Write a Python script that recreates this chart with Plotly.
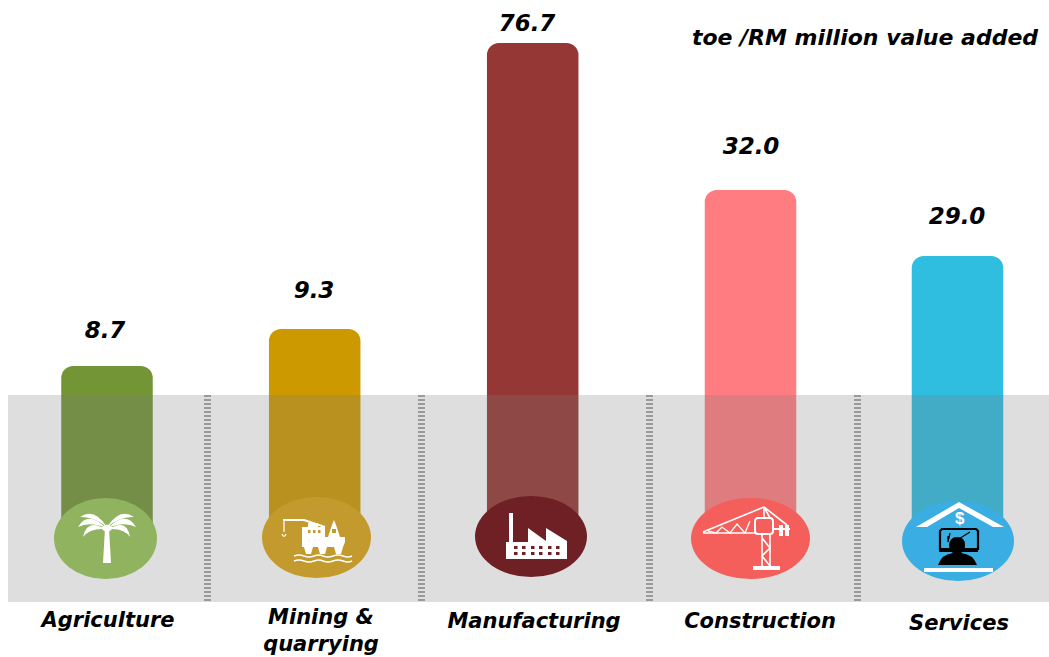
import plotly.graph_objects as go

# Data
categories = ["Agriculture", "Mining &<br>quarrying", "Manufacturing", "Construction", "Services"]
values = [8.7, 9.3, 76.7, 32.0, 29.0]
# The source bars are pictorial (not to scale): drawn height above the icon centre
drawn_heights = [172, 209, 495, 348, 282]
bar_centres = [107, 314.7, 532.7, 750.5, 957.5]
bar_colors = ["#739536", "#CC9900", "#943735", "#FF7C80", "#2FBDE0"]
circle_colors = ["#90B35F", "#C39A2E", "#6E2024", "#F45F5B", "#3AADE3"]
value_x = [105, 314, 527, 751, 957]
value_y = [332, 292, 25, 148, 218]
label_x = [108, 321, 534, 760, 959]
label_y = [622, 632, 623, 623, 625]
unit_text = "toe /RM million value added"
separators = [207.5, 421.5, 649.5, 857.5]
ellipses = [(54, 157, 498, 579), (262, 371, 497, 578), (475, 587, 496, 577),
            (691, 810, 498, 579), (902, 1014, 501, 581)]

W, H = 1049, 657
fig = go.Figure()
fig.add_trace(go.Bar(x=bar_centres, y=drawn_heights, base=H - 538, width=91.5,
                     marker=dict(color=bar_colors, line=dict(width=0)),
                     showlegend=False, hoverinfo="skip"))

fig.add_trace(go.Scatter(x=value_x, y=value_y, yaxis="y2", mode="text", cliponaxis=False,
                         text=[f"{v:.1f}" for v in values], textposition="middle center",
                         textfont=dict(family="DejaVu Sans", size=23, color="#000000",
                                       weight="bold", style="italic"),
                         showlegend=False, hoverinfo="skip"))
fig.add_trace(go.Scatter(x=label_x, y=label_y, yaxis="y2", mode="text", cliponaxis=False,
                         text=categories, textposition="middle center",
                         textfont=dict(family="DejaVu Sans", size=21, color="#000000",
                                       weight="bold", style="italic"),
                         showlegend=False, hoverinfo="skip"))
fig.add_trace(go.Scatter(x=[865], y=[39], yaxis="y2", mode="text", cliponaxis=False,
                         text=[unit_text], textposition="middle center",
                         textfont=dict(family="DejaVu Sans", size=22, color="#000000",
                                       weight="bold", style="italic"),
                         showlegend=False, hoverinfo="skip"))

shapes = []
def add(**k):
    k.setdefault("xref", "x"); k.setdefault("yref", "y2"); k.setdefault("layer", "above")
    k.setdefault("line", dict(width=0))
    shapes.append(k)
def rect(x0, x1, y0, y1, c="#FFFFFF"):
    add(type="rect", x0=x0, x1=x1, y0=y0, y1=y1, fillcolor=c)
def path(d, fill="#FFFFFF", lw=0, lc="#FFFFFF"):
    add(type="path", path=d, fillcolor=fill, line=dict(width=lw, color=lc))
def stroke(d, lw=1.5, c="#FFFFFF"):
    add(type="path", path=d, line=dict(width=lw, color=c))

# grey band over the bars
rect(8, 1049, 395, 602, "rgba(123,123,123,0.25)")
for s in separators:
    add(type="line", x0=s, x1=s, y0=395, y1=603,
        line=dict(color="#9A9A9A", width=7, dash="2px,2px"))
for (x0, x1, y0, y1), c in zip(ellipses, circle_colors):
    add(type="circle", x0=x0, x1=x1, y0=y0, y1=y1, fillcolor=c)

# palm
path("M105 528 L109 528 L111 563 L103 563 Z")
for d in ["M107 527 Q94 507 80 517 Q93 516 107 527 Z",
          "M107 527 Q120 507 134 517 Q121 516 107 527 Z",
          "M106 528 Q88 510 78 527 Q90 521 106 528 Z",
          "M108 528 Q126 510 136 527 Q124 521 108 528 Z",
          "M105 529 Q87 518 83 537 Q90 528 105 529 Z",
          "M109 529 Q127 518 130 537 Q124 528 109 529 Z"]:
    path(d)
path("M101 528 Q107 521 113 528 L110 531 L104 531 Z")

# oil rig
for y in (556, 561):
    stroke(f"M294 {y} Q299 {y-2} 304 {y} Q309 {y+2} 314 {y} Q319 {y-2} 323 {y} Q328 {y+2} 333 {y} Q338 {y-2} 343 {y} Q348 {y+2} 352 {y}", 1.6)
path("M302 537 L345 537 L345 542 L343 547 L302 547 Z")
for a, b in ((304, 313), (318, 327), (334, 343)):
    path(f"M{a} 547 L{b} 547 L{b-2} 554 L{a+2} 554 Z")
rect(302, 325, 527, 537)
rect(308, 318, 523, 527)
for x in (308, 313, 318):
    rect(x, x + 2.5, 530, 533, "#C39A2E")
path("M328 537 L332 525 L334 520 L336 525 L340 537 Z")
rect(332, 336, 529, 533, "#C39A2E")
stroke("M283 520 L304 520 L325 527", 2)
stroke("M284 520 L284 532 M282 534 Q284 539 286 534", 1.2)

# factory
rect(509, 513, 513, 542)
path("M506 542 L528 542 L528 528 L546 541 L546 528 L567 541 L567 559 L506 559 Z")
for y in (546, 552):
    for x in (514, 522, 531, 539, 548, 556):
        rect(x, x + 3.5, y, y + 3, "#6E2024")

# crane
stroke("M703 533 L755 533 M764 507 L703 532 M764 507 L787 525 M764 507 L764 518 M770 518 L764 507", 1.6)
stroke("M708 531 L716 533 L722 527 L730 533 L737 524 L745 533 L750 521", 1.3)
stroke("M762 535 L762 567 M770 535 L770 567 M762 538 L770 548 L762 556 L770 566", 1.6)
rect(753, 780, 566, 570)
add(type="path", path="M758 518 L770 518 Q773 518 773 522 L773 531 Q773 534 770 534 L758 534 Q755 534 755 531 L755 522 Q755 518 758 518 Z",
    line=dict(width=2, color="#FFFFFF"))
stroke("M772 529 L790 529", 2)
rect(779, 783, 525, 536); rect(785, 789, 525, 536)

# services
path("M916 527 L959 502 L1004 527 L993 527 L959 508 L927 527 Z")
add(type="path", path="M942 529 L976 529 L978 531 L978 549 L940 549 L940 531 Z",
    line=dict(width=2.2, color="#000000"))
rect(939, 978, 550, 552, "#000000")
stroke("M948 542 L950 533 M948 542 L948 536 M953 541 L962 537 L970 532", 1.3, "#000000")
path("M949 545 Q950 537 957 537 Q965 537 965 545 Q965 551 961 553 Q973 554 977 565 L938 565 Q942 554 953 553 Q949 551 949 545 Z", fill="#000000")
rect(924, 993, 568, 572)

fig.update_layout(
    width=W, height=H, autosize=False,
    margin=dict(l=0, r=0, t=0, b=0),
    paper_bgcolor="#FFFFFF", plot_bgcolor="#FFFFFF",
    barmode="overlay", barcornerradius=12, showlegend=False,
    xaxis=dict(range=[0, W], visible=False, fixedrange=True),
    yaxis=dict(range=[0, H], visible=False, fixedrange=True),
    yaxis2=dict(range=[H, 0], visible=False, fixedrange=True, overlaying="y"),
    shapes=shapes,
    annotations=[dict(x=960, y=518, xref="x", yref="y2", text="$", showarrow=False,
                      font=dict(family="Liberation Sans", size=17, color="#FFFFFF", weight="bold"))],
)
fig.write_html("out.html", config={"displayModeBar": False, "responsive": False},
               post_script="document.body.style.margin='0';document.documentElement.style.overflow='hidden';")
